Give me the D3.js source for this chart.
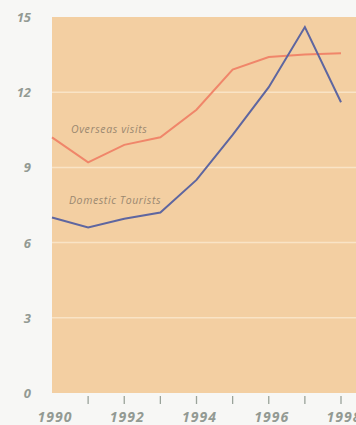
<!DOCTYPE html>
<html>
<head>
<meta charset="utf-8">
<script src="https://cdn.jsdelivr.net/npm/d3@7"></script>
<style>
  body { margin: 0; background: #f7f7f5; }
  svg { display: block; }
  .tick-label { font-family: "Open Sans", sans-serif; font-style: italic; font-weight: 700; fill: #939a93; }
  .series-label { font-family: "Open Sans", sans-serif; font-style: italic; font-size: 10.5px; letter-spacing: 0.6px; fill: #9a8870; }
</style>
</head>
<body>
<script>
const years = [1990, 1991, 1992, 1993, 1994, 1995, 1996, 1997, 1998];
const overseas = [10.2, 9.2, 9.9, 10.2, 11.3, 12.9, 13.4, 13.5, 13.55];
const domestic = [7.0, 6.6, 6.95, 7.2, 8.5, 10.3, 12.2, 14.6, 11.6];
const yTicks = [0, 3, 6, 9, 12, 15];
const yearLabels = [1990, 1992, 1994, 1996, 1998];

const width = 356, height = 425;
const plot = { left: 52, right: 356, top: 17, bottom: 393 };

const svg = d3.select("body").append("svg")
  .attr("width", width)
  .attr("height", height);

const x = d3.scaleLinear().domain([1990, 1998]).range([52, 341]);
const y = d3.scaleLinear().domain([0, 15]).range([plot.bottom, plot.top]);

// plot background
svg.append("rect")
  .attr("x", plot.left).attr("y", plot.top)
  .attr("width", plot.right - plot.left).attr("height", plot.bottom - plot.top)
  .attr("fill", "#f3cfa2");

// grid lines
svg.selectAll("line.grid")
  .data(yTicks.filter(d => d > 0 && d < 15))
  .join("line")
  .attr("class", "grid")
  .attr("x1", plot.left).attr("x2", plot.right)
  .attr("y1", d => y(d)).attr("y2", d => y(d))
  .attr("stroke", "#f9e4c6")
  .attr("stroke-width", 1.5);

// y labels
svg.selectAll("text.ylab")
  .data(yTicks)
  .join("text")
  .attr("class", "tick-label ylab")
  .attr("x", 31)
  .attr("y", d => y(d) + 5)
  .attr("text-anchor", "end")
  .style("font-size", "13px")
  .text(d => d);

// x ticks
svg.selectAll("line.xtick")
  .data(years.slice(1))
  .join("line")
  .attr("class", "xtick")
  .attr("x1", d => x(d)).attr("x2", d => x(d))
  .attr("y1", 396).attr("y2", 404)
  .attr("stroke", "#9aa39a")
  .attr("stroke-width", 1.3);

svg.selectAll("text.xlab")
  .data(yearLabels)
  .join("text")
  .attr("class", "tick-label xlab")
  .attr("x", d => x(d) + 3)
  .attr("y", 422)
  .attr("text-anchor", "middle")
  .style("font-size", "14px")
  .style("letter-spacing", "1px")
  .text(d => d);

const line = d3.line()
  .x((d, i) => x(years[i]))
  .y(d => y(d));

svg.append("path")
  .datum(overseas)
  .attr("d", line)
  .attr("fill", "none")
  .attr("stroke", "#f0866a")
  .attr("stroke-width", 2);

svg.append("path")
  .datum(domestic)
  .attr("d", line)
  .attr("fill", "none")
  .attr("stroke", "#5e66a0")
  .attr("stroke-width", 2);

svg.append("text")
  .attr("class", "series-label")
  .attr("x", 71).attr("y", 133)
  .text("Overseas visits");

svg.append("text")
  .attr("class", "series-label")
  .attr("x", 69).attr("y", 204)
  .text("Domestic Tourists");
</script>
</body>
</html>
